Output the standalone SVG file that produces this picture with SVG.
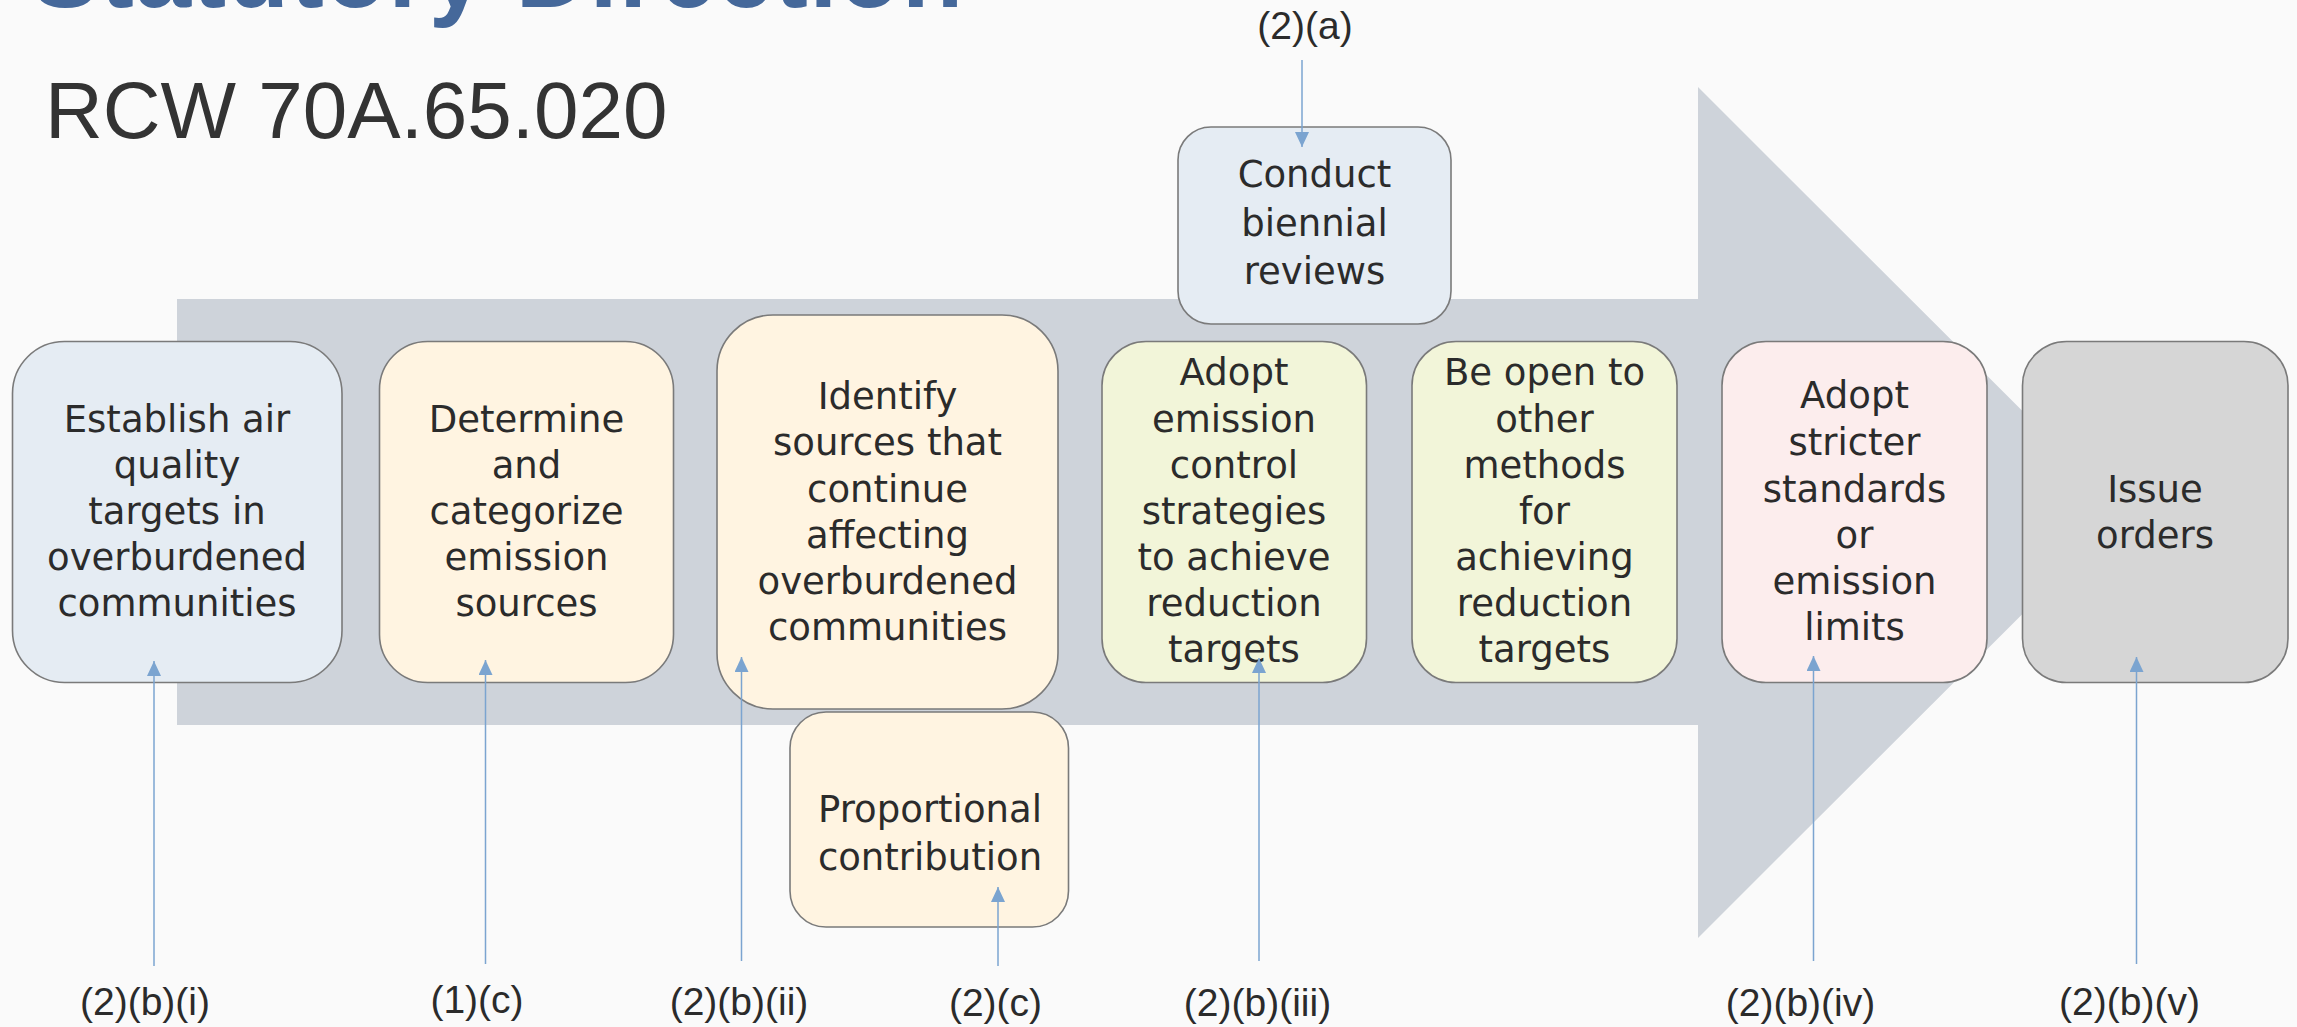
<svg xmlns="http://www.w3.org/2000/svg" width="2297" height="1027" viewBox="0 0 2297 1027">
<defs>
<marker id="ah" markerUnits="userSpaceOnUse" markerWidth="16" markerHeight="14" refX="15" refY="7" orient="auto">
<path d="M0,0 L15,7 L0,14 z" fill="#7BA4D0"/>
</marker>
<style>
.node rect{stroke:#7a7a7a;stroke-width:1.6}
.nt{font-family:"DejaVu Sans",sans-serif;font-size:37px;fill:#2b2b2b;text-anchor:middle}
.lb{font-family:"Liberation Sans",Arial,sans-serif;font-size:39px;fill:#2b2b2b;text-anchor:middle}
.cn{stroke:#7BA4D0;stroke-width:1.5;fill:none;marker-end:url(#ah)}
.blue{fill:#E5ECF3}.cream{fill:#FFF4E1}.green{fill:#F2F5D9}.pink{fill:#FCEDED}.gray{fill:#D6D6D6}
</style>
</defs>
<rect x="0" y="0" width="2297" height="1027" fill="#FAFAFA"/>
<text x="32" y="7" font-family="Liberation Sans, Arial, sans-serif" font-weight="bold" font-size="100" fill="#45689A" textLength="931" lengthAdjust="spacing">Statutory Direction</text>
<text x="45" y="138" font-family="Liberation Sans, Arial, sans-serif" font-size="80" fill="#333333">RCW 70A.65.020</text>
<path id="bigarrow" d="M177,299 L1698,299 L1698,87 L2124,512.5 L1698,938 L1698,725 L177,725 z" fill="#CED3DA"/>
<g id="n1" class="node"><rect class="blue" x="12.5" y="341.5" width="329.5" height="341" rx="52"/>
<text class="nt"><tspan x="177" y="432">Establish air</tspan><tspan x="177" y="478">quality</tspan><tspan x="177" y="524">targets in</tspan><tspan x="177" y="570">overburdened</tspan><tspan x="177" y="616">communities</tspan></text></g>
<g id="n2" class="node"><rect class="cream" x="379.5" y="341.5" width="294" height="341" rx="48"/>
<text class="nt"><tspan x="526.5" y="432">Determine</tspan><tspan x="526.5" y="478">and</tspan><tspan x="526.5" y="524">categorize</tspan><tspan x="526.5" y="570">emission</tspan><tspan x="526.5" y="616">sources</tspan></text></g>
<g id="n3" class="node"><rect class="cream" x="717" y="315" width="341" height="394" rx="56"/>
<text class="nt"><tspan x="887.5" y="409">Identify</tspan><tspan x="887.5" y="455">sources that</tspan><tspan x="887.5" y="501.5">continue</tspan><tspan x="887.5" y="548">affecting</tspan><tspan x="887.5" y="594">overburdened</tspan><tspan x="887.5" y="640">communities</tspan></text></g>
<g id="n4" class="node"><rect class="cream" x="790" y="712" width="278.5" height="215" rx="36"/>
<text class="nt"><tspan x="930" y="822">Proportional</tspan><tspan x="930" y="870">contribution</tspan></text></g>
<g id="n5" class="node"><rect class="blue" x="1178" y="127" width="273" height="197" rx="33"/>
<text class="nt"><tspan x="1314.5" y="187">Conduct</tspan><tspan x="1314.5" y="236">biennial</tspan><tspan x="1314.5" y="284">reviews</tspan></text></g>
<g id="n6" class="node"><rect class="green" x="1102" y="341.5" width="264.5" height="341" rx="44"/>
<text class="nt"><tspan x="1234" y="385">Adopt</tspan><tspan x="1234" y="431.5">emission</tspan><tspan x="1234" y="478">control</tspan><tspan x="1234" y="524">strategies</tspan><tspan x="1234" y="570">to achieve</tspan><tspan x="1234" y="616">reduction</tspan><tspan x="1234" y="662">targets</tspan></text></g>
<g id="n7" class="node"><rect class="green" x="1412" y="341.5" width="265" height="341" rx="44"/>
<text class="nt"><tspan x="1544.5" y="385">Be open to</tspan><tspan x="1544.5" y="431.5">other</tspan><tspan x="1544.5" y="478">methods</tspan><tspan x="1544.5" y="524">for</tspan><tspan x="1544.5" y="570">achieving</tspan><tspan x="1544.5" y="616">reduction</tspan><tspan x="1544.5" y="662">targets</tspan></text></g>
<g id="n8" class="node"><rect class="pink" x="1722" y="341.5" width="265" height="341" rx="44"/>
<text class="nt"><tspan x="1854.5" y="408">Adopt</tspan><tspan x="1854.5" y="455">stricter</tspan><tspan x="1854.5" y="501.5">standards</tspan><tspan x="1854.5" y="548">or</tspan><tspan x="1854.5" y="594">emission</tspan><tspan x="1854.5" y="640">limits</tspan></text></g>
<g id="n9" class="node"><rect class="gray" x="2022.5" y="341.5" width="265.5" height="341" rx="44"/>
<text class="nt"><tspan x="2155" y="501.5">Issue</tspan><tspan x="2155" y="548">orders</tspan></text></g>
<g id="connectors">
<line class="cn" x1="154" y1="966" x2="154" y2="661"/>
<line class="cn" x1="485.5" y1="964" x2="485.5" y2="660"/>
<line class="cn" x1="741.5" y1="961" x2="741.5" y2="657"/>
<line class="cn" x1="998" y1="966" x2="998" y2="887"/>
<line class="cn" x1="1302" y1="60" x2="1302" y2="147"/>
<line class="cn" x1="1259" y1="961" x2="1259" y2="658"/>
<line class="cn" x1="1813.5" y1="961" x2="1813.5" y2="656"/>
<line class="cn" x1="2136.5" y1="964" x2="2136.5" y2="657"/>
</g>
<g id="labels">
<text class="lb" x="1305" y="39">(2)(a)</text>
<text class="lb" x="145" y="1015">(2)(b)(i)</text>
<text class="lb" x="477" y="1013">(1)(c)</text>
<text class="lb" x="739" y="1015">(2)(b)(ii)</text>
<text class="lb" x="995.5" y="1016">(2)(c)</text>
<text class="lb" x="1257.5" y="1016">(2)(b)(iii)</text>
<text class="lb" x="1800.5" y="1016">(2)(b)(iv)</text>
<text class="lb" x="2129.5" y="1015">(2)(b)(v)</text>
</g>
</svg>
